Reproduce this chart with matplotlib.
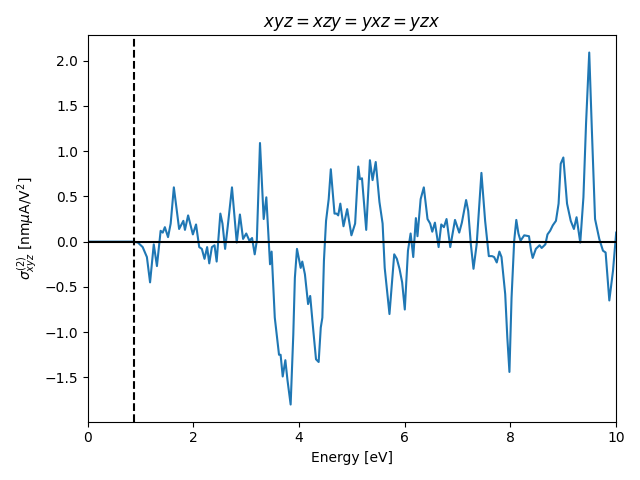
import numpy as np
import matplotlib.pyplot as plt

# values
energy = [0.0, 0.5, 0.87, 0.95, 1.04, 1.12, 1.18, 1.25, 1.31, 1.38, 1.42, 1.46,
          1.52, 1.57, 1.63, 1.73, 1.81, 1.84, 1.90, 1.99, 2.05, 2.11, 2.16, 2.21,
          2.26, 2.30, 2.35, 2.40, 2.44, 2.51, 2.55, 2.60, 2.65, 2.73, 2.82, 2.88,
          2.94, 3.00, 3.06, 3.11, 3.16, 3.20, 3.26, 3.33, 3.38, 3.45, 3.48, 3.54,
          3.57, 3.62, 3.65, 3.69, 3.74, 3.78, 3.84, 3.89, 3.92, 3.96, 4.03, 4.06,
          4.11, 4.17, 4.21, 4.27, 4.32, 4.37, 4.41, 4.44, 4.47, 4.51, 4.56, 4.60,
          4.67, 4.71, 4.74, 4.78, 4.84, 4.91, 4.99, 5.06, 5.12, 5.15, 5.19, 5.27,
          5.34, 5.39, 5.45, 5.52, 5.58, 5.62, 5.71, 5.80, 5.85, 5.90, 5.95, 6.00,
          6.06, 6.11, 6.16, 6.21, 6.24, 6.30, 6.36, 6.43, 6.48, 6.52, 6.57, 6.64,
          6.69, 6.74, 6.79, 6.86, 6.95, 7.03, 7.08, 7.16, 7.20, 7.25, 7.30, 7.36,
          7.45, 7.52, 7.59, 7.65, 7.69, 7.74, 7.79, 7.83, 7.90, 7.94, 7.98, 8.02,
          8.07, 8.11, 8.15, 8.19, 8.26, 8.35, 8.39, 8.42, 8.48, 8.55, 8.59, 8.66,
          8.70, 8.75, 8.80, 8.86, 8.91, 8.95, 9.00, 9.07, 9.14, 9.20, 9.25, 9.32,
          9.38, 9.43, 9.49, 9.54, 9.60, 9.68, 9.75, 9.80, 9.87, 9.94, 10.0]
sigma = [0.0, 0.0, 0.0, -0.01, -0.06, -0.17, -0.45, -0.03, -0.27, 0.12, 0.10, 0.16,
         0.05, 0.20, 0.60, 0.14, 0.23, 0.13, 0.29, 0.08, 0.19, -0.06, -0.08, -0.19,
         -0.06, -0.24, -0.06, -0.04, -0.22, 0.31, 0.20, -0.08, 0.17, 0.60, -0.01, 0.30,
         0.03, 0.09, 0.01, 0.04, -0.14, 0.01, 1.09, 0.25, 0.49, -0.25, -0.11, -0.84,
         -0.99, -1.25, -1.25, -1.49, -1.31, -1.53, -1.80, -1.03, -0.40, -0.08, -0.29, -0.22,
         -0.36, -0.69, -0.60, -0.99, -1.30, -1.33, -0.95, -0.84, -0.21, 0.23, 0.47, 0.80,
         0.31, 0.31, 0.29, 0.42, 0.17, 0.36, 0.07, 0.20, 0.83, 0.69, 0.70, 0.13,
         0.90, 0.68, 0.88, 0.44, 0.20, -0.29, -0.80, -0.14, -0.19, -0.30, -0.45, -0.75,
         -0.10, 0.09, -0.17, 0.26, 0.06, 0.47, 0.60, 0.25, 0.20, 0.11, 0.21, -0.06,
         0.19, 0.16, 0.25, -0.06, 0.24, 0.10, 0.21, 0.46, 0.34, -0.03, -0.30, -0.03,
         0.76, 0.23, -0.16, -0.16, -0.17, -0.23, -0.11, -0.17, -0.58, -1.06, -1.44, -0.62,
         0.01, 0.24, 0.09, 0.01, 0.07, 0.06, -0.10, -0.18, -0.08, -0.04, -0.07, -0.03,
         0.08, 0.12, 0.18, 0.23, 0.42, 0.86, 0.93, 0.42, 0.23, 0.14, 0.27, -0.01,
         0.49, 1.31, 2.09, 1.23, 0.25, 0.03, -0.10, -0.12, -0.65, -0.32, 0.10]
gap = 0.87


def main():
    fig, ax = plt.subplots(figsize=(6.4, 4.8), dpi=100)
    ax.plot(energy, sigma)
    ax.axhline(0, color='k')
    ax.axvline(gap, color='k', ls='--')
    ax.set_xlim(0, 10)
    ax.set_ylim(-1.99, 2.28)
    ax.set_xlabel('Energy [eV]')
    ax.set_ylabel(r'$\sigma^{(2)}_{xyz}$ [nm$\mu$A/V$^2$]')
    ax.set_title(r'$xyz = xzy = yxz = yzx$')
    fig.tight_layout()
    fig.savefig('out.png')


if __name__ == '__main__':
    main()
